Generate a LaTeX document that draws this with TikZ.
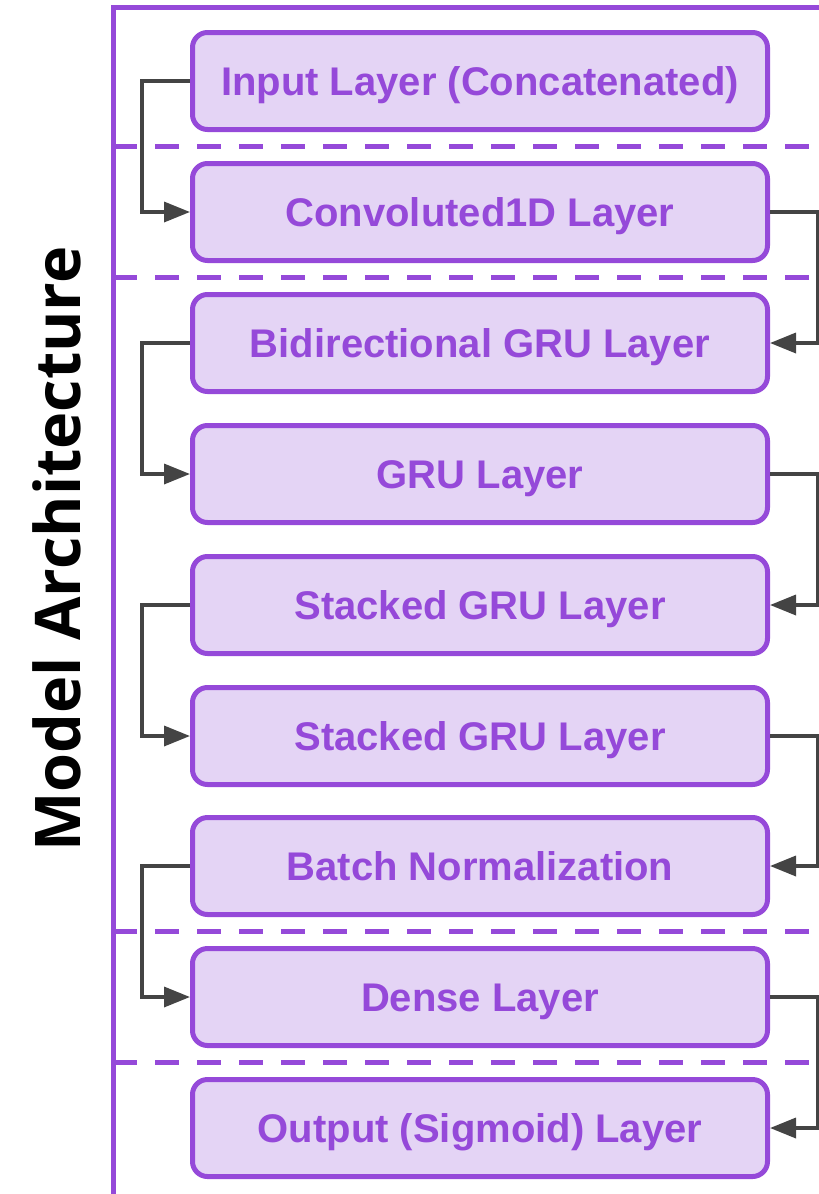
\documentclass[tikz,border=0pt]{standalone}
\usepackage{fontspec}
\setmainfont{Liberation Sans}
\newfontfamily\titlefont{Open Sans}
\usepackage{tikz}
\usetikzlibrary{arrows.meta}

\definecolor{archpurple}{RGB}{149,73,217}
\definecolor{archfill}{RGB}{228,212,245}
\definecolor{linkgray}{RGB}{68,68,68}

\begin{document}
\begin{tikzpicture}
	[x=1pt, y=-1pt,
	layer/.style={rectangle, rounded corners=15pt, draw=archpurple, line width=5pt,
		fill=archfill, minimum width=575pt, minimum height=97pt, inner sep=0pt,
		text height=29pt, text depth=0pt,
		text=archpurple, font=\fontsize{40}{48}\selectfont\bfseries},
	frame/.style={draw=archpurple, line width=5pt},
	split/.style={draw=archpurple, line width=5pt, dash pattern=on 24pt off 18pt},
	link/.style={draw=linkgray, line width=3.5pt, -{Triangle[length=26pt,width=20pt]}}]

	\useasboundingbox (0,0) rectangle (819,1194);

	% outer frame
	\draw[frame] (113,1200) -- (113,7) -- (825,7);

	\node[rotate=90, font=\titlefont\fontsize{63}{70}\selectfont\bfseries] (title) at (57,549) {Model Architecture};

	% section separators
	\draw[split] (113,146.5) -- (819,146.5);
	\draw[split] (113,277) -- (819,277);
	\draw[split] (113,931.5) -- (819,931.5);
	\draw[split] (113,1062) -- (819,1062);

	% layers
	\node[layer] (inp) at (480,81) {Input Layer (Concatenated)};
	\node[layer] (conv) at (480,212) {Convoluted1D Layer};
	\node[layer] (bigru) at (480,343) {Bidirectional GRU Layer};
	\node[layer] (gru) at (480,474) {GRU Layer};
	\node[layer] (stack1) at (480,605) {Stacked GRU Layer};
	\node[layer] (stack2) at (480,736) {Stacked GRU Layer};
	\node[layer] (bnorm) at (480,866) {Batch Normalization};
	\node[layer] (dense) at (480,997) {Dense Layer};
	\node[layer] (outp) at (480,1128) {Output (Sigmoid) Layer};

	% connections
	\draw[link] (inp.west) -- ++(-48,0) |- (conv.west);
	\draw[link] (conv.east) -- ++(48,0) |- (bigru.east);
	\draw[link] (bigru.west) -- ++(-48,0) |- (gru.west);
	\draw[link] (gru.east) -- ++(48,0) |- (stack1.east);
	\draw[link] (stack1.west) -- ++(-48,0) |- (stack2.west);
	\draw[link] (stack2.east) -- ++(48,0) |- (bnorm.east);
	\draw[link] (bnorm.west) -- ++(-48,0) |- (dense.west);
	\draw[link] (dense.east) -- ++(48,0) |- (outp.east);

\end{tikzpicture}
\end{document}
